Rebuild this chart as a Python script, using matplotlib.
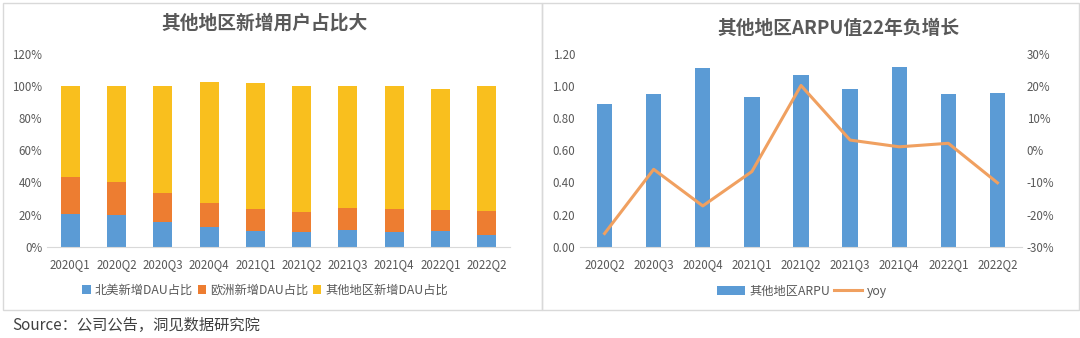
import matplotlib
matplotlib.use("Agg")
import matplotlib.pyplot as plt
from matplotlib.patches import Rectangle
from matplotlib.ticker import FuncFormatter
import numpy as np

plt.rcParams['font.family'] = ['Noto Sans CJK SC', 'DejaVu Sans']

# 左图数据：新增DAU占比（各段高度）
quarters_l = ["2020Q1", "2020Q2", "2020Q3", "2020Q4", "2021Q1",
              "2021Q2", "2021Q3", "2021Q4", "2022Q1", "2022Q2"]
na_share = [20.4, 19.8, 15.2, 12.5, 9.8, 9.0, 10.4, 9.0, 9.8, 7.3]
eu_share = [22.9, 20.2, 18.1, 15.0, 13.7, 12.9, 13.6, 14.5, 13.3, 15.0]
other_share = [56.7, 60.0, 66.7, 75.0, 78.5, 78.1, 76.0, 76.5, 75.2, 77.7]

# 右图数据：其他地区ARPU和同比
quarters_r = ["2020Q2", "2020Q3", "2020Q4", "2021Q1", "2021Q2",
              "2021Q3", "2021Q4", "2022Q1", "2022Q2"]
arpu = [0.89, 0.95, 1.11, 0.93, 1.07, 0.98, 1.12, 0.95, 0.96]
yoy = [-25.9, -5.9, -17.3, -6.6, 20.2, 3.2, 1.1, 2.2, -10.1]

BLUE = "#5B9BD5"
ORANGE = "#ED7D31"
YELLOW = "#F9BF1E"
TXT = "#595959"
W, H = 1080, 338

fig = plt.figure(figsize=(W / 100, H / 100), dpi=100)


def fx(px):
    return px / W


def fy(py):
    return 1 - py / H


# 两个面板的浅灰边框
for x0, x1 in [(3, 542), (542, 1079)]:
    fig.patches.append(Rectangle((fx(x0), fy(310)), fx(x1 - x0), (310 - 3) / H,
                                 transform=fig.transFigure, fill=False,
                                 edgecolor="#d9d9d9", linewidth=1))


def style_axis(ax):
    for s in ["top", "right", "left"]:
        ax.spines[s].set_visible(False)
    ax.spines["bottom"].set_color("#d9d9d9")
    ax.tick_params(length=0, labelsize=8.3, colors=TXT)


# ---------- 左图 ----------
ax1 = fig.add_axes([fx(47), fy(246.7), fx(510 - 47), (246.7 - 54) / H])
x = np.arange(len(quarters_l))
bw = 0.41
ax1.bar(x, na_share, bw, color=BLUE, label="北美新增DAU占比")
ax1.bar(x, eu_share, bw, bottom=na_share, color=ORANGE, label="欧洲新增DAU占比")
bottom2 = np.array(na_share) + np.array(eu_share)
ax1.bar(x, other_share, bw, bottom=bottom2, color=YELLOW, label="其他地区新增DAU占比")
ax1.set_xlim(-0.5, 9.5)
ax1.set_ylim(0, 120)
ax1.set_yticks(range(0, 121, 20))
ax1.yaxis.set_major_formatter(FuncFormatter(lambda v, p: f"{v:.0f}%"))
ax1.set_xticks(x)
ax1.set_xticklabels(quarters_l)
style_axis(ax1)
ax1.tick_params(axis="x", pad=8)
fig.text(fx(265), fy(23), "其他地区新增用户占比大", ha="center", va="center",
         fontsize=13.5, color=TXT, fontweight="bold")
ax1.legend(loc="center", bbox_to_anchor=(fx(265), fy(290)),
           bbox_transform=fig.transFigure, ncol=3, frameon=False,
           fontsize=8.8, handlelength=0.7, handleheight=0.7, handletextpad=0.3,
           columnspacing=0.4, labelcolor=TXT)

# ---------- 右图 ----------
ax2 = fig.add_axes([fx(580), fy(246.7), fx(1022 - 580), (246.7 - 54) / H])
xr = np.arange(len(quarters_r))
ax2.bar(xr, arpu, 0.31, color=BLUE, label="其他地区ARPU")
ax2.set_xlim(-0.5, 8.5)
ax2.set_ylim(0, 1.2)
ax2.set_yticks(np.arange(0, 1.21, 0.2))
ax2.yaxis.set_major_formatter(FuncFormatter(lambda v, p: f"{v:.2f}"))
ax2.set_xticks(xr)
ax2.set_xticklabels(quarters_r)
style_axis(ax2)
ax2.tick_params(axis="x", pad=8)

ax3 = ax2.twinx()
ax3.plot(xr, yoy, color="#F0A060", linewidth=2.2, label="yoy")
ax3.set_ylim(-30, 30)
ax3.set_yticks(range(-30, 31, 10))
ax3.yaxis.set_major_formatter(FuncFormatter(lambda v, p: f"{v:.0f}%"))
for s in ["top", "right", "left", "bottom"]:
    ax3.spines[s].set_visible(False)
ax3.tick_params(length=0, labelsize=8.3, colors=TXT)

fig.text(fx(838), fy(28), "其他地区ARPU值22年负增长", ha="center", va="center",
         fontsize=13.5, color=TXT, fontweight="bold")
h1, l1 = ax2.get_legend_handles_labels()
h2, l2 = ax3.get_legend_handles_labels()
ax3.legend(h1 + h2, l1 + l2, loc="center", bbox_to_anchor=(fx(802), fy(291)),
           bbox_transform=fig.transFigure, ncol=2, frameon=False,
           fontsize=8.8, handlelength=2.3, handletextpad=0.4,
           columnspacing=0.3, labelcolor=TXT)

fig.text(fx(12), fy(325), "Source：公司公告，洞见数据研究院", ha="left", va="center",
         fontsize=11, color="#404040")

fig.savefig("out.png", dpi=100, facecolor="white")
